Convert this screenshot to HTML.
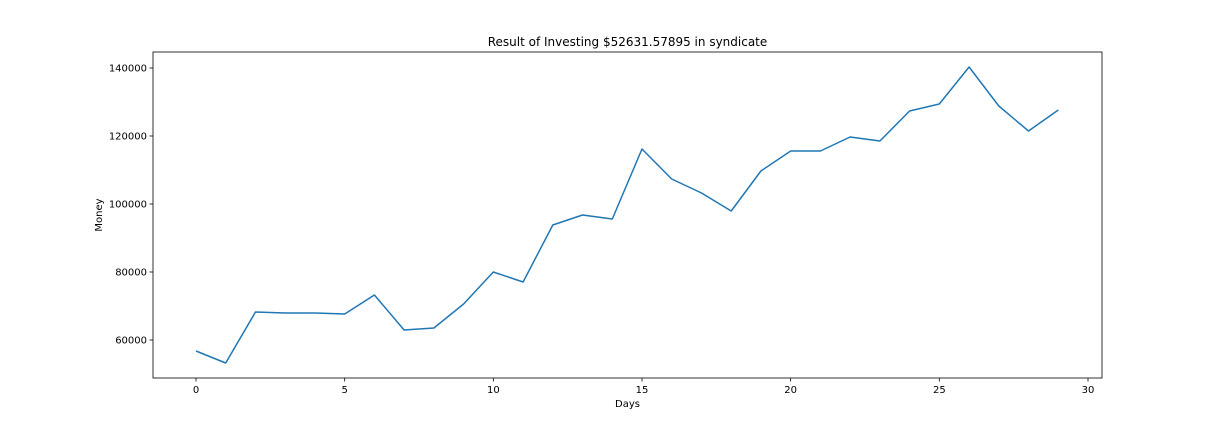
<!DOCTYPE html>
<html><head><meta charset="utf-8"><style>
body{margin:0;background:#fff;}
svg{display:block;font-family:"DejaVu Sans","Liberation Sans",sans-serif;}
</style></head><body>
<svg id="chart" width="1224" height="432" xmlns="http://www.w3.org/2000/svg">
<text x="627.5" y="46" text-anchor="middle" font-size="12">Result of Investing $52631.57895 in syndicate</text>
<text x="627.5" y="407" text-anchor="middle" font-size="10">Days</text>
<text transform="translate(102,215) rotate(-90)" text-anchor="middle" font-size="10">Money</text>
<g id="plot"></g>
</svg>
<script>
const days = [0,1,2,3,4,5,6,7,8,9,10,11,12,13,14,15,16,17,18,19,20,21,22,23,24,25,26,27,28,29];
const money = [56765,53235,68235,67941,67941,67647,73235,62941,63529,70588,80000,77059,93824,96765,95588,116176,107353,103235,97941,109706,115588,115588,119706,118529,127353,129412,140294,128824,121471,127647];
const xTicks = [0,5,10,15,20,25,30];
const yTicks = [60000,80000,100000,120000,140000];

const L=153,R=1102,T=52,B=378;
const xs = v => 196 + v*(1088-196)/30;
const ys = v => 340 - (v-60000)*272/80000;
const NS="http://www.w3.org/2000/svg";
const g=document.getElementById('plot');
function mk(t,a){const e=document.createElementNS(NS,t);for(const k in a)e.setAttribute(k,a[k]);g.appendChild(e);return e;}

const frame=mk('rect',{x:L,y:T,width:R-L,height:B-T,fill:'none',stroke:'#000','stroke-width':0.8});



xTicks.forEach(v=>{
  const x=xs(v);
  const t=mk('line',{x1:x,x2:x,y1:B,y2:B+3.5,stroke:'#000','stroke-width':0.8});
  
  
  const l=mk('text',{x:x,y:B+15,'text-anchor':'middle','font-size':10});
  l.textContent=v;
  
  
});
yTicks.forEach(v=>{
  const y=ys(v);
  const t=mk('line',{x1:L-3.5,x2:L,y1:y,y2:y,stroke:'#000','stroke-width':0.8});
  
  
  const l=mk('text',{x:L-6,y:y+3.5,'text-anchor':'end','font-size':10});
  l.textContent=v;
  
  
});

const pts=days.map((d,i)=>xs(d).toFixed(1)+','+ys(money[i]).toFixed(1)).join(' ');
const line=mk('polyline',{points:pts,fill:'none',stroke:'#1f77b4','stroke-width':1.5,'stroke-linejoin':'round'});


</script>
</body></html>
